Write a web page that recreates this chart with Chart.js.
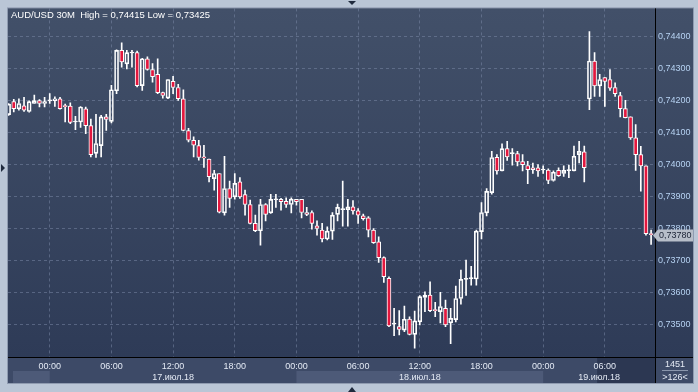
<!DOCTYPE html>
<html>
<head>
<meta charset="utf-8">
<script src="https://cdn.jsdelivr.net/npm/chart.js@4/dist/chart.umd.min.js"></script>
<style>
  html, body { margin: 0; padding: 0; background: #bac6d6; }
  canvas { display: block; }
</style>
</head>
<body>
<canvas id="chart" width="698" height="392"></canvas>
<script>
// AUD/USD 30M, prices in points (1 point = 0.00001)
const opens = [
  74155, 74196, 74173, 74183, 74165, 74190, 74199, 74190, 74198, 74199,
  74205, 74181, 74182, 74132, 74132, 74173, 74121, 74034, 74058, 74148,
  74134, 74230, 74356, 74314, 74348, 74349, 74246, 74330, 74296, 74281,
  74224, 74207, 74259, 74240, 74205, 74105, 74075, 74058, 74021, 74016,
  73955, 73971, 73848, 73924, 73898, 73945, 73905, 73874, 73815, 73792,
  73874, 73848, 73889, 73890, 73884, 73874, 73890, 73890, 73849, 73849,
  73807, 73794, 73766, 73791, 73843, 73858, 73858, 73867, 73854, 73839,
  73832, 73794, 73757, 73708, 73643, 73500, 73492, 73481, 73516, 73468,
  73507, 73583, 73591, 73543, 73539, 73549, 73504, 73514, 73580, 73640,
  73642, 73641, 73789, 73848, 73911, 74022, 73979, 74049, 74033, 74033,
  74008, 73996, 73989, 73989, 73982, 73982, 73949, 73981, 73971, 73980,
  73979, 74030, 74039, 74204, 74323, 74245, 74271, 74265, 74240, 74215,
  74174, 74148, 74083, 74030, 73995, 73781
];
const highs = [
  74190, 74203, 74205, 74209, 74198, 74216, 74202, 74209, 74221, 74211,
  74209, 74188, 74192, 74150, 74180, 74179, 74141, 74156, 74153, 74156,
  74247, 74358, 74380, 74356, 74356, 74354, 74331, 74336, 74315, 74330,
  74226, 74265, 74275, 74250, 74233, 74112, 74086, 74075, 74059, 74016,
  73981, 73971, 74025, 73947, 73971, 73958, 73919, 73888, 73841, 73890,
  73877, 73906, 73906, 73893, 73895, 73895, 73890, 73890, 73865, 73854,
  73823, 73815, 73804, 73849, 73875, 73947, 73890, 73886, 73861, 73844,
  73836, 73799, 73773, 73710, 73648, 73549, 73542, 73556, 73523, 73541,
  73589, 73601, 73632, 73568, 73599, 73575, 73549, 73619, 73669, 73700,
  73681, 73794, 73880, 73924, 74040, 74030, 74064, 74072, 74049, 74040,
  74030, 74009, 74004, 73999, 73995, 73986, 73979, 73989, 73995, 73997,
  74057, 74072, 74057, 74415, 74349, 74281, 74271, 74296, 74255, 74225,
  74200, 74148, 74124, 74056, 73995, 73794
];
const lows = [
  74153, 74164, 74169, 74165, 74163, 74190, 74179, 74179, 74190, 74181,
  74172, 74132, 74127, 74108, 74115, 74096, 74023, 74021, 74023, 74106,
  74129, 74221, 74304, 74298, 74304, 74242, 74231, 74294, 74257, 74221,
  74207, 74205, 74221, 74200, 74104, 74070, 74023, 74013, 73990, 73945,
  73919, 73848, 73841, 73865, 73891, 73893, 73841, 73813, 73789, 73747,
  73823, 73846, 73865, 73856, 73865, 73848, 73872, 73832, 73839, 73797,
  73778, 73757, 73763, 73765, 73823, 73806, 73806, 73844, 73815, 73825,
  73773, 73752, 73693, 73630, 73492, 73464, 73466, 73476, 73466, 73425,
  73497, 73539, 73539, 73523, 73504, 73492, 73439, 73507, 73562, 73590,
  73622, 73622, 73766, 73838, 73906, 73969, 73979, 74012, 73997, 73995,
  73979, 73939, 73971, 73962, 73971, 73939, 73947, 73962, 73962, 73958,
  73979, 74004, 73945, 74171, 74212, 74212, 74181, 74231, 74212, 74148,
  74145, 74078, 73981, 73916, 73778, 73749
];
const closes = [
  74188, 74174, 74190, 74169, 74196, 74199, 74190, 74196, 74200, 74205,
  74174, 74180, 74131, 74133, 74179, 74121, 74030, 74065, 74148, 74140,
  74233, 74356, 74320, 74349, 74349, 74246, 74330, 74297, 74274, 74224,
  74215, 74265, 74240, 74205, 74106, 74075, 74060, 74021, 74020, 73961,
  73971, 73850, 73924, 73893, 73940, 73898, 73874, 73815, 73792, 73874,
  73843, 73890, 73890, 73883, 73874, 73891, 73883, 73849, 73843, 73815,
  73799, 73766, 73791, 73841, 73865, 73859, 73867, 73854, 73841, 73830,
  73794, 73755, 73708, 73648, 73494, 73501, 73483, 73515, 73468, 73510,
  73586, 73591, 73542, 73542, 73555, 73497, 73518, 73580, 73640, 73641,
  73643, 73791, 73849, 73915, 74021, 73979, 74049, 74023, 74034, 74007,
  73999, 73983, 73983, 73979, 73983, 73949, 73975, 73964, 73981, 73981,
  74025, 74040, 73989, 74323, 74245, 74265, 74259, 74238, 74221, 74174,
  74146, 74082, 74030, 73995, 73783, 73780
];

const tickLabels = ['00:00', '06:00', '12:00', '18:00', '00:00', '06:00', '12:00', '18:00', '00:00', '06:00'];
const dayLabels = ['17.июл.18', '18.июл.18', '19.июл.18'];
const priceTicks = [0.735, 0.736, 0.737, 0.738, 0.739, 0.740, 0.741, 0.742, 0.743, 0.744];
const firstTick = 8;     // bars before 17.07 00:00
const barsPerTick = 12;  // 6 hours of 30M bars
const barsPerDay = 48;

const P = v => v / 100000;
const fmt = v => v.toFixed(5).replace('.', ',');
const isBear = i => closes[i] < opens[i];

const bodies = [], upWicks = [], downWicks = [];
opens.forEach((o, i) => {
  const top = Math.max(o, closes[i]);
  const bot = Math.min(o, closes[i]);
  bodies.push({ x: i, y: [P(bot), P(top)] });
  upWicks.push({ x: i, y: [P(top), P(highs[i])] });
  downWicks.push({ x: i, y: [P(lows[i]), P(bot)] });
});

Chart.defaults.font.family = '"Liberation Sans", Arial, sans-serif';
Chart.defaults.font.size = 9;

const frame = {
  id: 'frame',
  beforeDraw(chart) {
    const { ctx, chartArea: a, scales: { x } } = chart;
    const right = 693, bottom = 383;
    ctx.save();
    ctx.fillStyle = '#bac6d6';
    ctx.fillRect(0, 0, chart.width, chart.height);
    ctx.fillStyle = '#8f9bb0';
    ctx.fillRect(a.left - 1, a.top - 1, right - a.left + 2, bottom - a.top + 2);

    const g = ctx.createLinearGradient(0, a.top, 0, a.bottom);
    g.addColorStop(0, '#425069');
    g.addColorStop(1, '#2e3b57');
    ctx.fillStyle = g;
    ctx.fillRect(a.left, a.top, right - a.left, a.bottom - a.top);

    ctx.fillStyle = '#3d4a67';
    ctx.fillRect(a.left, a.bottom, right - a.left, bottom - a.bottom);

    // day bands in the lower row
    const edges = [a.left];
    for (let d = 0; d <= dayLabels.length; d++) {
      edges.push(Math.min(a.right, x.getPixelForValue(firstTick + d * barsPerDay)));
    }
    for (let k = 0; k < edges.length - 1; k++) {
      if (k % 2 === 0) {
        const x0 = edges[k] + (k === 0 ? 5 : 0);
        ctx.fillStyle = '#4d5a78';
        ctx.fillRect(x0, 371, edges[k + 1] - x0, bottom - 371);
      }
    }
    // current session box
    const sx = x.getPixelForValue(opens.length - 11.5);
    ctx.fillStyle = '#2c3752';
    ctx.fillRect(sx, a.bottom + 1, a.right - sx, bottom - a.bottom - 1);
    ctx.restore();
  },
  afterDraw(chart) {
    const { ctx, chartArea: a, scales: { x, y } } = chart;
    const right = 693, bottom = 383;
    ctx.save();
    ctx.fillStyle = '#000';
    ctx.fillRect(a.right, a.top, 1, bottom - a.top);
    ctx.fillRect(a.left, a.bottom, right - a.left, 1);

    ctx.font = '9px "Liberation Sans", Arial, sans-serif';
    ctx.textBaseline = 'middle';

    // day labels
    ctx.fillStyle = '#e4eaf4';
    ctx.textAlign = 'center';
    dayLabels.forEach((lab, d) => {
      const x0 = x.getPixelForValue(firstTick + d * barsPerDay);
      const x1 = Math.min(a.right, x.getPixelForValue(firstTick + (d + 1) * barsPerDay));
      ctx.fillText(lab, (x0 + x1) / 2, 377.5);
    });

    // bar counter box
    ctx.fillText('1451', 675, 365);
    ctx.fillText('>' + opens.length + '<', 675, 377.5);
    ctx.fillStyle = '#8a96ac';
    ctx.fillRect(662, 370, 26, 1);

    // title
    ctx.textAlign = 'left';
    ctx.fillStyle = '#ffffff';
    ctx.font = '9.5px "Liberation Sans", Arial, sans-serif';
    const hi = fmt(P(Math.max(...highs)));
    const lo = fmt(P(Math.min(...lows)));
    ctx.fillText('AUD/USD 30M  High = ' + hi + ' Low = ' + lo, 11, 15);
    ctx.font = '9px "Liberation Sans", Arial, sans-serif';

    // last price label
    const last = P(closes[closes.length - 1]);
    const py = Math.round(y.getPixelForValue(last)) + 0.5;
    ctx.fillStyle = '#b7bec9';
    ctx.beginPath();
    ctx.moveTo(a.right - 2, py);
    ctx.lineTo(a.right + 3, py - 6);
    ctx.lineTo(right, py - 6);
    ctx.lineTo(right, py + 6);
    ctx.lineTo(a.right + 3, py + 6);
    ctx.closePath();
    ctx.fill();
    ctx.fillStyle = '#1b2335';
    ctx.fillText(fmt(last), a.right + 4, py + 0.5);

    // edge markers
    ctx.fillStyle = '#1f2a3d';
    ctx.beginPath();
    ctx.moveTo(348, 1); ctx.lineTo(356, 1); ctx.lineTo(352, 5); ctx.closePath(); ctx.fill();
    ctx.beginPath();
    ctx.moveTo(348, 392); ctx.lineTo(356, 392); ctx.lineTo(352, 387); ctx.closePath(); ctx.fill();
    ctx.beginPath();
    ctx.moveTo(1, 164); ctx.lineTo(1, 172); ctx.lineTo(5, 168); ctx.closePath(); ctx.fill();
    ctx.restore();
  }
};

new Chart(document.getElementById('chart'), {
  type: 'bar',
  data: {
    datasets: [
      {
        data: bodies,
        order: 0,
        grouped: false,
        barThickness: 4,
        minBarLength: 1,
        borderWidth: 1,
        borderSkipped: false,
        borderColor: '#ffffff',
        backgroundColor: c => isBear(c.dataIndex) ? '#e3173e' : 'rgba(0,0,0,0)'
      },
      {
        data: upWicks,
        order: 1,
        grouped: false,
        barThickness: 1,
        borderWidth: 0,
        backgroundColor: '#ffffff'
      },
      {
        data: downWicks,
        order: 1,
        grouped: false,
        barThickness: 1,
        borderWidth: 0,
        backgroundColor: '#ffffff'
      }
    ]
  },
  options: {
    responsive: false,
    animation: false,
    layout: { padding: { left: 8, top: 8, right: 5, bottom: 9 } },
    plugins: { legend: { display: false }, tooltip: { enabled: false } },
    scales: {
      x: {
        type: 'linear',
        offset: false,
        min: -0.12,
        max: 125.76,
        afterFit: s => { s.height = 26; },
        afterBuildTicks: s => {
          s.ticks = tickLabels.map((_, k) => ({ value: firstTick + k * barsPerTick }));
        },
        ticks: {
          autoSkip: false,
          maxRotation: 0,
          padding: 4,
          color: '#e4eaf4',
          callback: (v, i) => tickLabels[i]
        },
        grid: { offset: false, color: 'rgba(125,140,170,0.5)', drawTicks: false },
        border: { display: false, dash: [3, 3] }
      },
      y: {
        position: 'right',
        min: 0.73397,
        max: 0.744875,
        afterFit: s => { s.width = 38; },
        afterBuildTicks: s => { s.ticks = priceTicks.map(v => ({ value: v })); },
        ticks: {
          padding: 3,
          color: '#b6d2f2',
          callback: v => fmt(v)
        },
        grid: { color: 'rgba(125,140,170,0.5)', drawTicks: false },
        border: { display: false, dash: [3, 3] }
      }
    }
  },
  plugins: [frame]
});
</script>
</body>
</html>
